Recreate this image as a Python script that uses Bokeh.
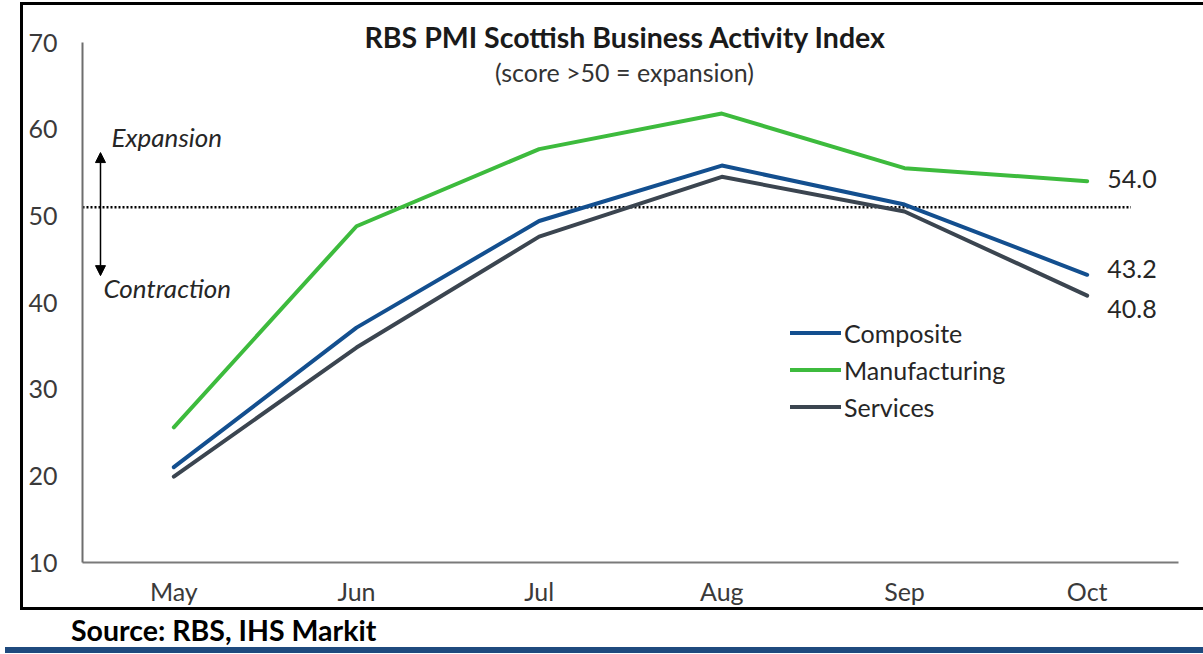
from bokeh.plotting import figure
from bokeh.models import (FactorRange, Range1d, FixedTicker, Legend, LegendItem,
                          Label, Arrow, NormalHead, Div)
from bokeh.layouts import column
from bokeh.embed import file_html
from bokeh.resources import INLINE

# ---------------- data ----------------
months = ["May", "Jun", "Jul", "Aug", "Sep", "Oct"]
composite = [21.0, 37.1, 49.4, 55.8, 51.3, 43.2]
manufacturing = [25.6, 48.8, 57.7, 61.8, 55.5, 54.0]
services = [19.9, 34.8, 47.6, 54.5, 50.5, 40.8]
y_ticks = [10, 20, 30, 40, 50, 60, 70]
threshold = 51.0
title_text = "RBS PMI Scottish Business Activity Index"
subtitle_text = "(score >50 = expansion)"
source_text = "Source: RBS, IHS Markit"

FONT = "Lato"
C_COMP = "#134F8F"
C_MAN = "#3DBB3D"
C_SERV = "#3B4550"
TXT = "#3A3A3A"
FS = "25px"

# layout: frame top is the canvas top; value 70 sits 37 px below it
Y_MIN, Y_MAX = 10, 70
FRAME_H = 557
px_per_unit = (FRAME_H - 37) / (Y_MAX - Y_MIN)
y_top = Y_MAX + 37 / px_per_unit

W, H = 1183, 608
p = figure(width=W, height=H, x_range=FactorRange(*months, range_padding=0),
           y_range=Range1d(Y_MIN, y_top), output_backend="svg", toolbar_location=None,
           min_border_left=59, min_border_right=W - 1155, min_border_top=0,
           min_border_bottom=H - FRAME_H, background_fill_color="white",
           border_fill_color="white", outline_line_color=None,
           styles={"border-top": "3px solid black", "border-bottom": "3px solid black",
                   "border-left": "3px solid black", "margin-left": "20px",
                   "margin-top": "2px"})
p.xgrid.visible = False
p.ygrid.visible = False

# axes
p.yaxis.ticker = FixedTicker(ticks=y_ticks)
p.yaxis.bounds = (Y_MIN, Y_MAX)
p.yaxis.axis_line_color = "#6E6E6E"
p.yaxis.axis_line_width = 2
p.yaxis.major_tick_line_color = None
p.yaxis.minor_tick_line_color = None
p.yaxis.major_tick_out = 0
p.yaxis.major_label_standoff = 25
p.yaxis.major_label_text_font = FONT
p.yaxis.major_label_text_font_size = FS
p.yaxis.major_label_text_color = TXT

p.xaxis.axis_line_color = "#7A7A7A"
p.xaxis.axis_line_width = 2
p.xaxis.major_tick_line_color = None
p.xaxis.minor_tick_line_color = None
p.xaxis.major_tick_out = 0
p.xaxis.major_label_standoff = 13
p.xaxis.major_label_text_font = FONT
p.xaxis.major_label_text_font_size = FS
p.xaxis.major_label_text_color = TXT

# threshold dotted line
p.segment(x0=[0], y0=[threshold], x1=[5.74], y1=[threshold], line_color="black",
          line_width=2.5, line_dash="2 2")

# series
r_man = p.line(months, manufacturing, line_color=C_MAN, line_width=4, line_cap="round", line_join="round")
r_comp = p.line(months, composite, line_color=C_COMP, line_width=4, line_cap="round", line_join="round")
r_serv = p.line(months, services, line_color=C_SERV, line_width=4, line_cap="round", line_join="round")

legend = Legend(items=[LegendItem(label="Composite", renderers=[r_comp]),
                       LegendItem(label="Manufacturing", renderers=[r_man]),
                       LegendItem(label="Services", renderers=[r_serv])],
                location=(708, 140), padding=0, margin=0, spacing=6,
                glyph_width=51, glyph_height=31, label_height=31, label_standoff=3,
                border_line_color=None, background_fill_alpha=0,
                label_text_font=FONT, label_text_font_size=FS,
                label_text_color="#262626")
p.add_layout(legend)

# end labels
for val, off in [(manufacturing[-1], 0.2), (composite[-1], 0.7), (services[-1], -1.6)]:
    p.add_layout(Label(x=5.61, y=val + off, text=f"{val:.1f}", text_font=FONT,
                       text_font_size=FS, text_color="#262626",
                       text_baseline="middle", text_align="left"))

# expansion / contraction annotation
p.add_layout(Arrow(x_start=0.0985, y_start=43.1, x_end=0.0985, y_end=57.3,
                   line_color="black", line_width=1.5,
                   start=NormalHead(size=10, fill_color="black", line_color="black"),
                   end=NormalHead(size=10, fill_color="black", line_color="black")))
p.add_layout(Label(x=0.159, y=59.04, text="Expansion", text_font=FONT,
                   text_font_style="italic", text_font_size="26px",
                   text_color="#262626", text_baseline="middle"))
p.add_layout(Label(x=0.115, y=41.73, text="Contraction", text_font=FONT,
                   text_font_style="italic", text_font_size="26px",
                   text_color="#262626", text_baseline="middle"))

# titles
p.add_layout(Label(x=2.973, y=70.58, text=title_text, text_font=FONT,
                   text_font_style="bold", text_font_size="28.5px",
                   text_color="#1A1A1A", text_align="center", text_baseline="middle"))
p.add_layout(Label(x=2.967, y=66.65, text=subtitle_text, text_font=FONT,
                   text_font_size="25px", text_color="#333333",
                   text_align="center", text_baseline="middle"))

src = Div(text=('<div style="font-family:Lato;font-weight:bold;font-size:28.5px;'
                'line-height:27px;padding-top:2px;padding-bottom:3px;padding-left:66px;'
                'color:black;white-space:nowrap;">' + source_text + '</div>'
                '<div style="height:6px;width:1203px;background-color:#1F4A7E;"></div>'),
          width=1203, height=44)

layout = column(p, src, spacing=0)
open("out.html", "w").write(file_html(layout, INLINE))
